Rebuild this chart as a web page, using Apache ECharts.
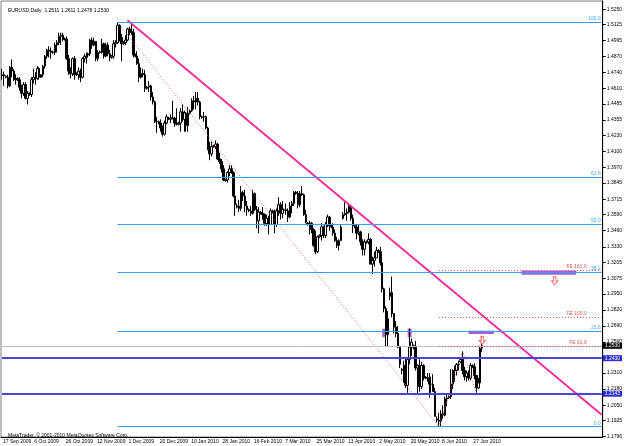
<!DOCTYPE html>
<html>
<head>
<meta charset="utf-8">
<title>EURUSD Daily</title>
<script src="https://cdn.jsdelivr.net/npm/echarts@6/dist/echarts.min.js"></script>
<style>
  html, body { margin: 0; padding: 0; background: #fff; }
  #main { width: 625px; height: 446px; }
</style>
</head>
<body>
<div id="main"></div>
<script>
// daily bars, [open, close, low, high]  (sunday bars included, like the broker feed)
var sep09 = [
  [1.4710,1.4720,1.4680,1.4768],[1.4720,1.4710,1.4630,1.4745],[1.4705,1.4700,1.4690,1.4715],
  [1.4700,1.4630,1.4610,1.4720],[1.4630,1.4780,1.4620,1.4790],[1.4780,1.4750,1.4700,1.4844],
  [1.4750,1.4680,1.4670,1.4765],[1.4680,1.4690,1.4640,1.4725],[1.4690,1.4680,1.4670,1.4700],
  [1.4680,1.4620,1.4590,1.4700],[1.4620,1.4570,1.4530,1.4640],[1.4570,1.4640,1.4550,1.4660]
];
var oct09 = [
  [1.4640,1.4530,1.4520,1.4660],[1.4530,1.4570,1.4480,1.4590],[1.4570,1.4560,1.4550,1.4580],
  [1.4560,1.4680,1.4540,1.4700],[1.4680,1.4700,1.4650,1.4770],[1.4700,1.4690,1.4640,1.4740],
  [1.4690,1.4770,1.4680,1.4790],[1.4770,1.4700,1.4680,1.4780],[1.4700,1.4720,1.4695,1.4725],
  [1.4720,1.4790,1.4700,1.4800],[1.4790,1.4870,1.4770,1.4880],[1.4870,1.4920,1.4850,1.4930],
  [1.4920,1.4910,1.4860,1.4950],[1.4910,1.4900,1.4850,1.4940],[1.4900,1.4905,1.4890,1.4915],
  [1.4900,1.4960,1.4880,1.4980],[1.4960,1.4980,1.4900,1.5000],[1.4980,1.5030,1.4960,1.5060],
  [1.5030,1.5040,1.4960,1.5060],[1.5040,1.5010,1.4990,1.5060],[1.5010,1.5005,1.4995,1.5020],
  [1.5010,1.4850,1.4840,1.5030],[1.4850,1.4750,1.4720,1.4880],[1.4750,1.4730,1.4690,1.4780],
  [1.4730,1.4850,1.4710,1.4860],[1.4850,1.4720,1.4680,1.4870]
];
var nov09 = [
  [1.4720,1.4725,1.4710,1.4740],[1.4720,1.4750,1.4680,1.4780],[1.4750,1.4700,1.4660,1.4770],
  [1.4700,1.4850,1.4690,1.4860],[1.4850,1.4870,1.4820,1.4890],[1.4870,1.4860,1.4810,1.4900],
  [1.4880,1.4890,1.4870,1.4900],[1.4890,1.5000,1.4870,1.5010],[1.5000,1.4960,1.4930,1.5020],
  [1.4960,1.4990,1.4950,1.5020],[1.4990,1.4850,1.4830,1.4990],[1.4850,1.4900,1.4830,1.4920],
  [1.4900,1.4905,1.4890,1.4915],[1.4900,1.4970,1.4890,1.5010],[1.4970,1.4870,1.4850,1.4980],
  [1.4870,1.4960,1.4860,1.4980],[1.4960,1.4890,1.4870,1.4980],[1.4890,1.4860,1.4830,1.4920],
  [1.4860,1.4870,1.4850,1.4880],[1.4870,1.4970,1.4850,1.5000],[1.4970,1.4980,1.4940,1.5000],
  [1.4980,1.5120,1.4970,1.5144],[1.5120,1.5020,1.4990,1.5130],[1.5020,1.4970,1.4830,1.5050],
  [1.4970,1.4980,1.4960,1.4990],[1.4980,1.5000,1.4960,1.5040]
];
var dec09 = [
  [1.5000,1.5090,1.4990,1.5100],[1.5090,1.5070,1.5040,1.5110],[1.5070,1.5060,1.5040,1.5130],
  [1.5060,1.4880,1.4860,1.5090],[1.4880,1.4870,1.4860,1.4890],[1.4870,1.4810,1.4800,1.4910],
  [1.4810,1.4700,1.4660,1.4850],[1.4700,1.4730,1.4690,1.4780],[1.4730,1.4720,1.4700,1.4770],
  [1.4720,1.4610,1.4580,1.4760],[1.4610,1.4620,1.4600,1.4630],[1.4620,1.4630,1.4580,1.4670],
  [1.4630,1.4540,1.4510,1.4640],[1.4540,1.4500,1.4480,1.4580],[1.4500,1.4340,1.4330,1.4510],
  [1.4340,1.4340,1.4250,1.4380],[1.4340,1.4330,1.4320,1.4350],[1.4330,1.4290,1.4260,1.4360],
  [1.4290,1.4240,1.4220,1.4310],[1.4240,1.4330,1.4230,1.4350],[1.4330,1.4380,1.4320,1.4400],
  [1.4370,1.4365,1.4355,1.4380],[1.4360,1.4370,1.4330,1.4400],[1.4370,1.4370,1.4360,1.4510],
  [1.4370,1.4330,1.4300,1.4380],[1.4330,1.4320,1.4310,1.4450]
];
var jan10 = [
  [1.4320,1.4330,1.4310,1.4340],[1.4330,1.4420,1.4260,1.4450],[1.4420,1.4360,1.4340,1.4480],
  [1.4360,1.4410,1.4260,1.4430],[1.4410,1.4310,1.4260,1.4420],[1.4310,1.4410,1.4260,1.4460],
  [1.4410,1.4430,1.4400,1.4440],[1.4430,1.4510,1.4420,1.4530],[1.4510,1.4500,1.4440,1.4550],
  [1.4500,1.4530,1.4440,1.4580],[1.4530,1.4500,1.4470,1.4580],[1.4500,1.4380,1.4360,1.4510],
  [1.4380,1.4375,1.4365,1.4390],[1.4380,1.4380,1.4340,1.4420],[1.4380,1.4290,1.4280,1.4390],
  [1.4290,1.4120,1.4110,1.4300],[1.4120,1.4080,1.4030,1.4180],[1.4080,1.4140,1.4060,1.4180],
  [1.4140,1.4145,1.4130,1.4155],[1.4140,1.4160,1.4120,1.4190],[1.4160,1.4040,1.4030,1.4170],
  [1.4040,1.4020,1.4000,1.4090],[1.4020,1.3960,1.3930,1.4040],[1.3960,1.3870,1.3860,1.3990],
  [1.3870,1.3865,1.3855,1.3880]
];
var feb10 = [
  [1.3870,1.3930,1.3850,1.3940],[1.3930,1.3960,1.3900,1.3990],[1.3960,1.3930,1.3920,1.3990],
  [1.3930,1.3740,1.3730,1.3940],[1.3740,1.3670,1.3580,1.3750],[1.3650,1.3660,1.3640,1.3680],
  [1.3660,1.3640,1.3610,1.3710],[1.3640,1.3770,1.3620,1.3820],[1.3770,1.3740,1.3700,1.3780],
  [1.3740,1.3660,1.3610,1.3790],[1.3660,1.3630,1.3580,1.3700],[1.3630,1.3620,1.3610,1.3640],
  [1.3620,1.3600,1.3580,1.3660],[1.3600,1.3760,1.3590,1.3790],[1.3760,1.3630,1.3620,1.3770],
  [1.3630,1.3540,1.3480,1.3660],[1.3540,1.3610,1.3440,1.3650],[1.3610,1.3600,1.3590,1.3620],
  [1.3600,1.3590,1.3550,1.3650],[1.3590,1.3520,1.3500,1.3600],[1.3520,1.3560,1.3500,1.3590],
  [1.3560,1.3510,1.3430,1.3580],[1.3510,1.3620,1.3510,1.3640],[1.3620,1.3610,1.3600,1.3630]
];
var mar10 = [
  [1.3610,1.3510,1.3440,1.3630],[1.3510,1.3620,1.3490,1.3640],[1.3620,1.3670,1.3580,1.3730],
  [1.3670,1.3600,1.3550,1.3690],[1.3600,1.3630,1.3560,1.3700],[1.3630,1.3625,1.3615,1.3640],
  [1.3630,1.3620,1.3590,1.3680],[1.3620,1.3570,1.3530,1.3640],[1.3570,1.3660,1.3560,1.3690],
  [1.3660,1.3680,1.3600,1.3700],[1.3680,1.3770,1.3660,1.3780],[1.3770,1.3760,1.3750,1.3780],
  [1.3760,1.3670,1.3640,1.3780],[1.3670,1.3760,1.3650,1.3780],[1.3760,1.3750,1.3740,1.3820],
  [1.3750,1.3590,1.3580,1.3760],[1.3590,1.3530,1.3520,1.3630],[1.3520,1.3515,1.3500,1.3530],
  [1.3520,1.3520,1.3430,1.3540],[1.3520,1.3470,1.3440,1.3530],[1.3470,1.3340,1.3330,1.3480],
  [1.3340,1.3290,1.3270,1.3460],[1.3290,1.3410,1.3280,1.3420],[1.3410,1.3420,1.3400,1.3430],
  [1.3420,1.3490,1.3380,1.3520],[1.3490,1.3420,1.3400,1.3500],[1.3420,1.3510,1.3400,1.3530]
];
var apr10 = [
  [1.3510,1.3570,1.3490,1.3590],[1.3570,1.3500,1.3460,1.3580],[1.3500,1.3490,1.3480,1.3510],
  [1.3490,1.3440,1.3420,1.3520],[1.3440,1.3380,1.3370,1.3470],[1.3380,1.3340,1.3320,1.3410],
  [1.3340,1.3380,1.3300,1.3390],[1.3380,1.3490,1.3380,1.3510],[1.3560,1.3590,1.3550,1.3610],
  [1.3590,1.3600,1.3580,1.3690],[1.3600,1.3610,1.3540,1.3640],[1.3610,1.3660,1.3600,1.3680],
  [1.3660,1.3560,1.3540,1.3670],[1.3560,1.3500,1.3440,1.3590],[1.3500,1.3490,1.3480,1.3510],
  [1.3490,1.3440,1.3390,1.3510],[1.3440,1.3450,1.3420,1.3510],[1.3450,1.3370,1.3340,1.3460],
  [1.3370,1.3310,1.3260,1.3390],[1.3310,1.3370,1.3260,1.3390],[1.3370,1.3365,1.3355,1.3380],
  [1.3370,1.3390,1.3350,1.3440],[1.3390,1.3190,1.3190,1.3400],[1.3190,1.3220,1.3110,1.3250],
  [1.3220,1.3240,1.3170,1.3290],[1.3240,1.3300,1.3240,1.3330]
];
var may10 = [
  [1.3300,1.3290,1.3280,1.3310],[1.3290,1.3200,1.3180,1.3330],[1.3200,1.2990,1.2960,1.3220],
  [1.2990,1.2830,1.2800,1.3000],[1.2830,1.2620,1.2520,1.2850],[1.2620,1.2750,1.2520,1.2810],
  [1.2930,1.2960,1.2900,1.3000],[1.2960,1.2790,1.2760,1.3090],[1.2790,1.2680,1.2630,1.2790],
  [1.2680,1.2630,1.2600,1.2730],[1.2630,1.2520,1.2510,1.2690],[1.2520,1.2380,1.2350,1.2530],
  [1.2340,1.2330,1.2300,1.2350],[1.2330,1.2370,1.2230,1.2410],[1.2370,1.2210,1.2190,1.2430],
  [1.2210,1.2420,1.2150,1.2420],[1.2420,1.2520,1.2380,1.2670],[1.2520,1.2560,1.2450,1.2590],
  [1.2530,1.2520,1.2500,1.2540],[1.2520,1.2350,1.2330,1.2570],[1.2350,1.2370,1.2143,1.2380],
  [1.2370,1.2200,1.2160,1.2420],[1.2200,1.2370,1.2180,1.2400],[1.2370,1.2270,1.2250,1.2380],
  [1.2270,1.2275,1.2260,1.2285],[1.2270,1.2270,1.2240,1.2310]
];
var jun10 = [
  [1.2270,1.2220,1.2110,1.2310],[1.2220,1.2220,1.2150,1.2280],[1.2220,1.2160,1.2160,1.2300],
  [1.2160,1.1960,1.1960,1.2190],[1.1940,1.1930,1.1910,1.1960],[1.1930,1.1920,1.1876,1.1990],
  [1.1920,1.1980,1.1880,1.2010],[1.1980,1.1970,1.1940,1.2050],[1.1970,1.2100,1.1960,1.2120],
  [1.2100,1.2110,1.2040,1.2140],[1.2110,1.2120,1.2100,1.2130],[1.2120,1.2220,1.2100,1.2340],
  [1.2220,1.2330,1.2180,1.2340],[1.2330,1.2330,1.2240,1.2370],[1.2330,1.2380,1.2290,1.2390],
  [1.2380,1.2380,1.2330,1.2410],[1.2400,1.2420,1.2390,1.2440],[1.2420,1.2330,1.2300,1.2487],
  [1.2330,1.2280,1.2250,1.2360],[1.2280,1.2310,1.2240,1.2330],[1.2310,1.2270,1.2250,1.2330],
  [1.2270,1.2370,1.2250,1.2390],[1.2370,1.2360,1.2350,1.2380],[1.2360,1.2290,1.2260,1.2390],
  [1.2290,1.2190,1.2151,1.2290],[1.2190,1.2230,1.2180,1.2270]
];
var jul10 = [
  [1.2230,1.2510,1.2220,1.2530],[1.2511,1.2530,1.2478,1.2611]
];

var dateLabels = ['17 Sep 2009', '6 Oct 2009', '26 Oct 2009', '12 Nov 2009', '1 Dec 2009',
  '20 Dec 2009', '10 Jan 2010', '28 Jan 2010', '16 Feb 2010', '7 Mar 2010', '25 Mar 2010',
  '13 Apr 2010', '2 May 2010', '20 May 2010', '8 Jun 2010', '27 Jun 2010'];
var priceTicks = ['1.5250', '1.5125', '1.4995', '1.4870', '1.4740', '1.4610', '1.4485', '1.4355',
  '1.4230', '1.4100', '1.3970', '1.3845', '1.3715', '1.3590', '1.3460', '1.3330', '1.3205',
  '1.3075', '1.2950', '1.2820', '1.2690', '1.2560', '1.2430', '1.2310', '1.2180', '1.2050',
  '1.1925', '1.1796'];

// fibo retracement: [bar, price] of the swing high and swing low
var fibHighPt = [59, 1.5144];
var fibLowPt = [223, 1.1876];
var fibLevels = [0, 23.6, 38.2, 50, 61.8, 100];
// fibo expansion anchors A, B, C
var fePts = [[223, 1.1876], [235, 1.2487], [242, 1.2151]];
var feLevels = [61.8, 100, 161.8];
// down trend line anchors
var trendPts = [[64, 1.5160], [306, 1.1972]];
// horizontal support lines and last price
var hLines = [1.2430, 1.2143];
var lastPrice = 1.2530;
// rectangles [[bar, price], [bar, price]]
var boxes = [
  [[194, 1.2668], [196, 1.2600]],
  [[207, 1.2668], [209, 1.2600]],
  [[238, 1.2652], [251, 1.2625]],
  [[265, 1.3138], [293, 1.3105]]
];
// arrow objects
var arrows = [[245, 1.2572], [282, 1.3054]];
var headerText = 'EURUSD,Daily  1.2511 1.2611 1.2478 1.2530';

var bars = [].concat(sep09, oct09, nov09, dec09, jan10, feb10, mar10, apr10, may10, jun10, jul10);
var slots = 307;  // chart is shifted, empty space on the right
var cats = [];
for (var i = 0; i < slots; i++) cats.push(String(i));
var lastSlot = slots - 1;

var FS = 5;
var FONT = 'Liberation Sans';
var FIB_BLUE = '#3d9cf2';
var FE_RED = '#e0585a';

function lvlLabel(text, color, pos, extra) {
  var l = { show: true, position: pos, formatter: text, color: color, fontSize: FS, fontFamily: FONT, distance: 1 };
  for (var k in extra) l[k] = extra[k];
  return l;
}

// fibo retracement levels
var fibLines = fibLevels.map(function (lv) {
  var p = fibLowPt[1] + (fibHighPt[1] - fibLowPt[1]) * lv / 100;
  return [
    { coord: [fibHighPt[0], p], label: lvlLabel(lv.toFixed(1), FIB_BLUE, 'insideEndTop', {}) },
    { coord: [lastSlot, p] }
  ];
});
// fibo expansion levels
var feRange = fePts[1][1] - fePts[0][1];
var feLines = feLevels.map(function (lv) {
  var p = fePts[2][1] + feRange * lv / 100;
  return [
    { coord: [fePts[0][0], p], label: lvlLabel('FE ' + lv.toFixed(1), FE_RED, 'insideEndTop', { padding: [0, 14, 0, 0] }) },
    { coord: [lastSlot, p] }
  ];
});
// full width lines with price tags on the axis
var tagLines = [[
  { coord: [0, lastPrice], lineStyle: { color: '#c0c0c0', width: 1 },
    label: lvlLabel(lastPrice.toFixed(4), '#fff', 'end', { backgroundColor: '#000', padding: [1, 2, 0, 2] }) },
  { coord: [lastSlot, lastPrice] }
]];
hLines.forEach(function (p) {
  tagLines.push([
    { coord: [0, p], lineStyle: { color: '#4646dc', width: 2 },
      label: lvlLabel(p.toFixed(4), '#fff', 'end', { backgroundColor: '#2a2ad0', padding: [1, 2, 0, 2] }) },
    { coord: [lastSlot, p] }
  ]);
});

var chart = echarts.init(document.getElementById('main'));
chart.setOption({
  animation: false,
  backgroundColor: '#fff',
  textStyle: { fontFamily: FONT },
  title: [
    { text: headerText, left: 3, top: 3, textStyle: { fontSize: FS, fontWeight: 'normal', color: '#000', fontFamily: FONT } },
    { text: 'MetaTrader, \u00a9 2001-2010 MetaQuotes Software Corp.', left: 3, top: 428,
      textStyle: { fontSize: FS, fontWeight: 'normal', color: '#000', fontFamily: FONT } }
  ],
  grid: { left: 0, right: 19, top: 1, bottom: 9, show: true, borderColor: '#808080', borderWidth: 1 },
  xAxis: {
    type: 'category',
    data: cats,
    boundaryGap: true,
    axisLine: { lineStyle: { color: '#000', width: 1 } },
    axisTick: { length: 3, alignWithLabel: true, lineStyle: { color: '#000' },
                interval: function (idx) { return idx % 16 === 0 && idx / 16 < dateLabels.length; } },
    axisLabel: {
      interval: function (idx) { return idx % 16 === 0 && idx / 16 < dateLabels.length; },
      formatter: function (v, idx) { return dateLabels[idx / 16] || ''; },
      align: 'left', margin: 2, fontSize: FS, color: '#000', fontFamily: FONT, padding: [0, 0, 0, 1]
    },
    splitLine: { show: false }
  },
  yAxis: {
    type: 'value',
    position: 'right',
    min: 1.1793,
    max: 1.5316,
    axisLine: { show: true, lineStyle: { color: '#000', width: 1 } },
    axisTick: { show: true, length: 3, lineStyle: { color: '#000' }, customValues: priceTicks.map(Number) },
    axisLabel: { customValues: priceTicks.map(Number), formatter: function (v) { return v.toFixed(4); },
                 fontSize: FS, color: '#000', margin: 4, fontFamily: FONT },
    splitLine: { show: false }
  },
  series: [
    {
      name: 'EURUSD',
      type: 'candlestick',
      data: bars,
      barWidth: 2,
      itemStyle: { color: '#fff', color0: '#000', borderColor: '#000', borderColor0: '#000', borderWidth: 1 },
      markLine: { silent: true, symbol: ['none', 'none'], lineStyle: { color: '#c0c0c0', type: 'solid' }, data: tagLines }
    },
    {
      name: 'fibo', type: 'line', data: [fibHighPt, fibLowPt], symbol: 'none', z: 3,
      lineStyle: { color: FE_RED, width: 1, type: [1, 2] },
      markLine: { silent: true, symbol: ['none', 'none'], data: fibLines,
                  lineStyle: { color: FIB_BLUE, width: 1, type: 'solid' } }
    },
    {
      name: 'expansion', type: 'line', data: fePts, symbol: 'none', z: 3,
      lineStyle: { color: FE_RED, width: 1, type: [1, 2] },
      markLine: { silent: true, symbol: ['none', 'none'], data: feLines,
                  lineStyle: { color: FE_RED, width: 1, type: [1, 2] } }
    },
    {
      name: 'trend', type: 'line', data: trendPts, symbol: 'none',
      lineStyle: { color: '#f2329a', width: 2 }, z: 4,
      markArea: {
        silent: true,
        itemStyle: { color: '#9a4fd6', opacity: 0.9 },
        data: boxes.map(function (b) { return [{ coord: b[0] }, { coord: b[1] }]; })
      }
    },
    {
      name: 'arrows', type: 'scatter', data: arrows,
      symbol: 'path://M3,0 L7,0 L7,5 L10,5 L5,10 L0,5 L3,5 Z', symbolSize: [6, 8],
      itemStyle: { color: '#fff', borderColor: '#ff4a4a', borderWidth: 1 }, z: 5
    }
  ]
});
</script>
</body>
</html>
